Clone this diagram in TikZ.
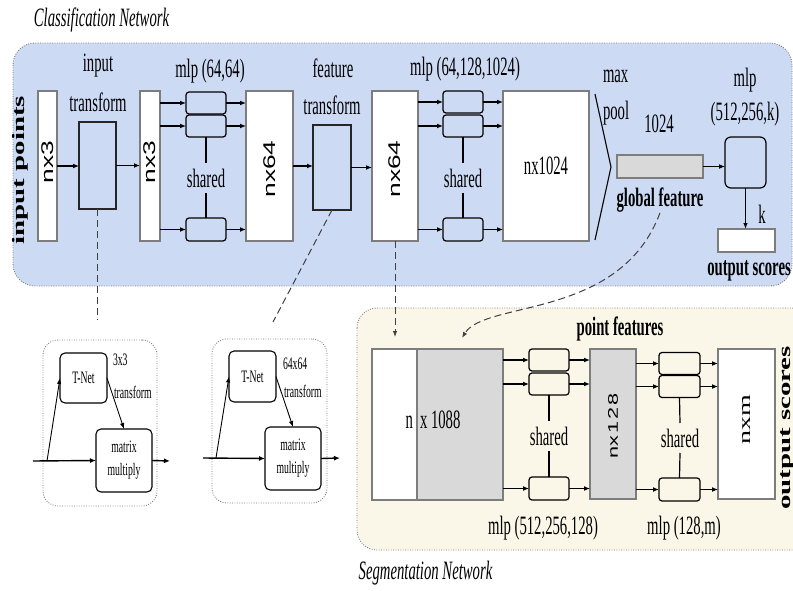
\documentclass[tikz,border=0pt]{standalone}
\usepackage{fontspec}
\setmainfont{Liberation Serif}[FakeStretch=0.555]
\newfontfamily\rotserif{Liberation Serif}[FakeStretch=1.65]
\newfontfamily\rotsans{Liberation Sans}[FakeStretch=1.55]
\usetikzlibrary{arrows.meta}
\definecolor{bgblue}{RGB}{205,218,244}
\definecolor{bgcream}{RGB}{251,247,232}
\definecolor{boxgray}{RGB}{217,217,217}
\definecolor{edgegray}{RGB}{125,125,125}
\begin{document}
\begin{tikzpicture}[x=1pt,y=-1pt,
  every node/.style={inner sep=0pt,outer sep=0pt},
  txt/.style={font=\fontsize{26.5}{29}\selectfont},
  txtb/.style={font=\fontsize{26.5}{29}\selectfont\bfseries},
  txti/.style={font=\fontsize{26.5}{29}\selectfont\itshape},
  small/.style={font=\fontsize{17.5}{23}\selectfont},
  rsans/.style={rotate=90,font=\rotsans\fontsize{17}{20}\selectfont},
  rserif/.style={rotate=90,font=\rotserif\fontsize{17}{20}\selectfont},
  rbold/.style={rotate=90,font=\rotserif\bfseries\fontsize{17.5}{20}\selectfont},
  colbox/.style={draw=edgegray,line width=1.1pt,fill=white,minimum height=150},
  graybox/.style={draw=edgegray,line width=1.1pt,fill=boxgray},
  tbox/.style={draw=black!85,line width=1.1pt,fill=bgblue},
  mbox/.style={draw=black,line width=1.2pt,rounded corners=3pt,minimum width=40,minimum height=22},
  tnbox/.style={draw=black,line width=1.1pt,rounded corners=5pt,small,align=center},
  arr/.style={line width=1.4pt,-{Latex[length=6pt,width=5pt]}},
  tarr/.style={line width=0.9pt,-{Latex[length=6pt,width=4.5pt]}},
  link/.style={line width=1.2pt},
  dsh/.style={draw=black!75,line width=1pt,dash pattern=on 7pt off 4pt},
  region/.style={draw=black!55,line width=0.9pt,dash pattern=on 0.8pt off 1.6pt}
]
\useasboundingbox (0,0) rectangle (793,591);

% ---------------- regions ----------------
\draw[region,fill=bgblue,rounded corners=22pt] (13,43) rectangle (792,286);
\draw[region,fill=bgcream,rounded corners=20pt] (357,308) rectangle (812,550);
\node[txti,anchor=base] (cls) at (101.5,27) {Classification Network};
\node[txti,anchor=base] (segl) at (425.5,579) {Segmentation Network};

% ---------------- classification row ----------------
\node[rbold] (ip) at (20,170) {input points};
\node[colbox,minimum width=19] (in1) at (47.5,166) {};
\node[rsans] (in1t) at (47.5,162) {nx3};
\node[tbox,minimum width=37,minimum height=87] (itf) at (97.5,165.5) {};
\node[txt,anchor=base] (l1) at (98,72) {input};
\node[txt,anchor=base] (l2) at (98,112) {transform};
\node[colbox,minimum width=20] (in2) at (150,166) {};
\node[rsans] (in2t) at (150,162) {nx3};

\node[mbox,fill=bgblue] (m1a) at (206,103) {};
\node[mbox,fill=bgblue] (m1b) at (206,126) {};
\node[mbox,fill=bgblue,minimum height=23] (m1c) at (206,229.5) {};
\node[txt,minimum height=30] (sh1) at (206,178) {shared};
\node[txt,anchor=base] (l3) at (210,78) {mlp (64,64)};

\node[colbox,minimum width=47] (f64a) at (269.5,166) {};
\node[rsans] (f64at) at (269.5,169) {nx64};
\node[tbox,minimum width=38,minimum height=85] (ftf) at (332,167.5) {};
\node[txt,anchor=base] (l4) at (333,78) {feature};
\node[txt,anchor=base] (l5) at (332,115) {transform};
\node[colbox,minimum width=46] (f64b) at (395,166) {};
\node[rsans] (f64bt) at (395,169) {nx64};

\node[mbox,fill=bgblue] (m2a) at (463,102) {};
\node[mbox,fill=bgblue] (m2b) at (463,126) {};
\node[mbox,fill=bgblue,minimum height=23] (m2c) at (463,229.5) {};
\node[txt,minimum height=30] (sh2) at (463,178) {shared};
\node[txt,anchor=base] (l6) at (465,76) {mlp (64,128,1024)};

\node[colbox,minimum width=86,txt] (f1024) at (546,166) {nx1024};
\draw[line width=1.1pt] (595,94) -- (611,167) -- (595,240);
\node[txt,anchor=base west] (l7) at (603,83) {max};
\node[txt,anchor=base west] (l8) at (603,120) {pool};
\node[txt,anchor=base] (l9) at (659,133) {1024};
\node[graybox,minimum width=86,minimum height=23] (gf) at (660,166.5) {};
\node[txtb,anchor=base] (l10) at (660,207) {global feature};
\node[draw=black,line width=1.2pt,fill=bgblue,rounded corners=6pt,minimum width=41,minimum height=51] (mlp3) at (745.5,162.5) {};
\node[txt,anchor=base] (l11) at (745,87) {mlp};
\node[txt,anchor=base] (l12) at (745,121) {(512,256,k)};
\node[draw=edgegray,line width=1.1pt,fill=white,minimum width=57,minimum height=23] (out) at (746.5,240.5) {};
\node[txt,anchor=base] (l13) at (762,223) {k};
\node[txtb,anchor=base] (l14) at (749,275) {output scores};

% arrows, classification
\draw[arr] (in1.east) -- (itf.west |- in1.east);
\draw[arr] (itf.east) -- (in2.west |- itf.east);
\foreach \b in {m1a,m1b,m1c}{
  \draw[arr] (in2.east |- \b) -- (\b.west);
  \draw[arr] (\b.east) -- (f64a.west |- \b);
}
\draw[link] (m1b.south) -- (sh1.north);
\draw[link] (sh1.south) -- (m1c.north);
\draw[arr] (f64a.east) -- (ftf.west |- f64a.east);
\draw[arr] (ftf.east) -- (f64b.west |- ftf.east);
\foreach \b in {m2a,m2b,m2c}{
  \draw[arr] (f64b.east |- \b) -- (\b.west);
  \draw[arr] (\b.east) -- (f1024.west |- \b);
}
\draw[link] (m2b.south) -- (sh2.north);
\draw[link] (sh2.south) -- (m2c.north);
\draw[arr] (gf.east) -- (mlp3.west |- gf.east);
\draw[tarr,line width=1.1pt] (mlp3.south) -- (mlp3.south |- out.north);

% ---------------- T-Net detail boxes ----------------
\node[region,rounded corners=15pt,minimum width=114,minimum height=166] (tA) at (100,423) {};
\node[tnbox,minimum width=47,minimum height=50] (tnA) at (83.5,378) {T-Net};
\node[tnbox,minimum width=56,minimum height=63] (mmA) at (124,460.5) {matrix\\multiply};
\node[small,anchor=base west] (tAa) at (113,365) {3x3};
\node[small,anchor=base west] (tAb) at (114,398) {transform};
\coordinate (inA) at (33,461);
\coordinate (brA) at (47,461);
\coordinate (outA) at (170,461);
\draw[arr] (inA) -- (mmA.west);
\draw[tarr] (brA) -- (tnA.west);
\draw[tarr] (tnA.east) -- (mmA.north);
\draw[arr] (mmA.east) -- (outA);

\node[region,rounded corners=15pt,minimum width=115,minimum height=164] (tB) at (269.5,421) {};
\node[tnbox,minimum width=47,minimum height=51] (tnB) at (252.5,376.5) {T-Net};
\node[tnbox,minimum width=56,minimum height=63] (mmB) at (293,458.5) {matrix\\multiply};
\node[small,anchor=base west] (tBa) at (283,369) {64x64};
\node[small,anchor=base west] (tBb) at (284,397) {transform};
\coordinate (inB) at (203,458);
\coordinate (brB) at (216,458);
\coordinate (outB) at (340,458);
\draw[arr] (inB) -- (mmB.west);
\draw[tarr] (brB) -- (tnB.west);
\draw[tarr] (tnB.east) -- (mmB.north);
\draw[arr] (mmB.east) -- (outB);

% dashed links
\coordinate (dA) at (97.5,320);
\coordinate (dB) at (273,322);
\coordinate (dC) at (395,337);
\coordinate (dD) at (462,338);
\draw[dsh] (itf.south) -- (dA);
\draw[dsh] (ftf.south) -- (dB);
\draw[dsh,-{Latex[length=6pt,width=4.5pt]}] (f64b.south) -- (dC);
\draw[dsh,-{Latex[length=6pt,width=4.5pt]}] (l10.south) .. controls (620,320) and (485,300) .. (dD);

% ---------------- segmentation row ----------------
\node[draw=edgegray,line width=1.1pt,fill=white,minimum width=45,minimum height=151] (nW) at (394.5,424.5) {};
\node[graybox,minimum width=86,minimum height=151] (nG) at (460,424.5) {};
\node[txt,anchor=base east] (nTa) at (413,428) {n};
\node[txt,anchor=base west] (nTb) at (420,428) {x 1088};
\node[txtb,anchor=base] (pf) at (620,335) {point features};

\node[mbox,fill=bgcream] (m4a) at (549,360) {};
\node[mbox,fill=bgcream] (m4b) at (549,384) {};
\node[mbox,fill=bgcream,minimum height=23] (m4c) at (549,488.5) {};
\node[txt,minimum height=30] (sh4) at (549,436) {shared};
\node[graybox,minimum width=46,minimum height=150] (n128) at (613,424) {};
\node[rsans,font=\rotsans\fontsize{14}{16}\selectfont] (n128t) at (613,426) {nx\kern2pt 1\kern2pt 2\kern2pt 8};
\node[mbox,fill=bgcream,minimum width=41] (m5a) at (679.5,363.5) {};
\node[mbox,fill=bgcream,minimum width=41] (m5b) at (679.5,386.5) {};
\node[mbox,fill=bgcream,minimum width=41,minimum height=23] (m5c) at (679.5,489.5) {};
\node[txt,minimum height=30] (sh5) at (680,438) {shared};
\node[colbox,minimum width=57] (nxm) at (746.5,424) {};
\node[rserif] (nxmt) at (746.5,420) {nxm};
\node[rbold] (os) at (787,428) {output scores};
\node[txt,anchor=base] (ml4) at (543,534) {mlp (512,256,128)};
\node[txt,anchor=base] (ml5) at (684,534) {mlp (128,m)};

\foreach \b in {m4a,m4b,m4c}{
  \draw[arr] (nG.east |- \b) -- (\b.west);
  \draw[arr] (\b.east) -- (n128.west |- \b);
}
\draw[link] (m4b.south) -- (sh4.north);
\draw[link] (sh4.south) -- (m4c.north);
\foreach \b in {m5a,m5b,m5c}{
  \draw[arr] (n128.east |- \b) -- (\b.west);
  \draw[arr] (\b.east) -- (nxm.west |- \b);
}
\draw[link] (m5b.south) -- (sh5.north);
\draw[link] (sh5.south) -- (m5c.north);
\end{tikzpicture}
\end{document}
